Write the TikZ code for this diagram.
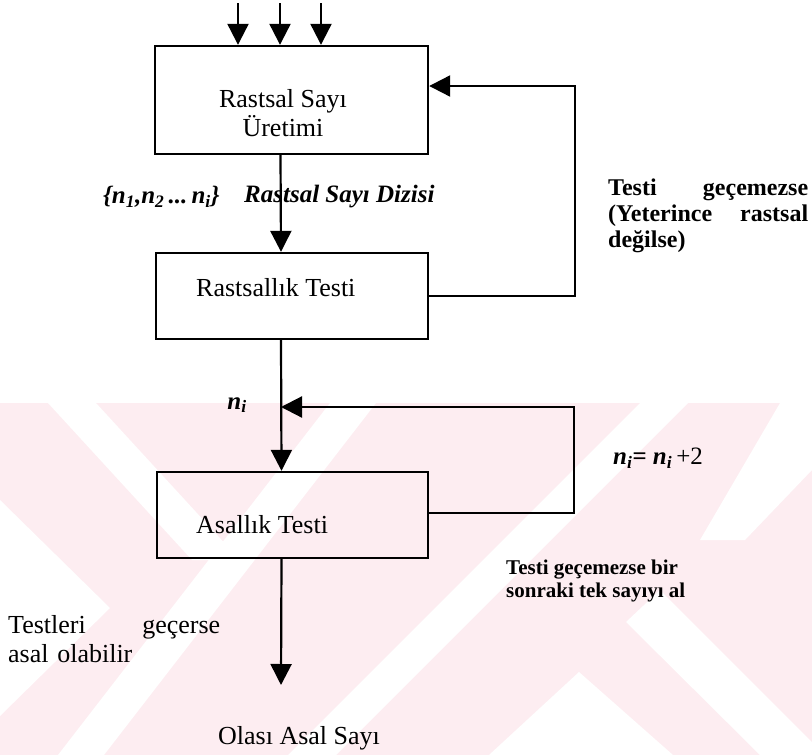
\documentclass[tikz,border=0pt]{standalone}
\usepackage{fontspec}
\setmainfont{Liberation Serif}
\usetikzlibrary{arrows.meta}
\definecolor{wmpink}{RGB}{253,237,241}
\tikzset{
  flowbox/.style={draw, line width=2.4pt, inner sep=0pt},
  arr/.style={line width=2.2pt, -{Triangle[length=21pt,width=21pt]}},
  txt/.style={inner sep=0pt, font=\fontsize{26}{29}\selectfont},
  bftxt/.style={inner sep=0pt, font=\fontsize{24}{26}\selectfont\bfseries},
  smalltxt/.style={inner sep=0pt, font=\fontsize{21}{23}\selectfont\bfseries},
  mathtxt/.style={inner sep=0pt, font=\fontsize{25}{29}\selectfont\bfseries\itshape}
}
\begin{document}
\begin{tikzpicture}[x=1pt,y=-1pt]
\useasboundingbox (0,0) rectangle (812,755);

% pale watermark ribbons in the lower half
\fill[wmpink] (0,403) rectangle (812,755);
\fill[white] (48,403) -- (96,403) -- (240,560) -- (192,560) -- cycle;
\fill[white] (0,500) -- (110,608) -- (0,716) -- cycle;
\fill[white] (330,403) -- (376,403) -- (104,755) -- (58,755) -- cycle;
\fill[white] (640,403) -- (688,403) -- (336,755) -- (288,755) -- cycle;
\fill[white] (579,672) -- (673,755) -- (489,755) -- cycle;
\fill[white] (626,622) -- (660,590) -- (812,742) -- (812,755) -- (760,755) -- cycle;
\fill[white] (780,403) -- (812,403) -- (812,470) -- (745,540) -- (700,540) -- cycle;

% boxes
\node[flowbox, minimum width=273pt, minimum height=108pt] (gen) at (291.5,100) {};
\node[flowbox, minimum width=272pt, minimum height=86pt] (rtest) at (292,296) {};
\node[flowbox, minimum width=271pt, minimum height=86pt] (ptest) at (292.5,515) {};

\node[txt, align=center] (gentxt) at (283,113) {Rastsal Sayı\\Üretimi};
\node[txt, anchor=west] (rtesttxt) at (196,288) {Rastsallık Testi};
\node[txt, anchor=west] (ptesttxt) at (196,525) {Asallık Testi};

% three inputs on top
\coordinate (in1) at (238,3);
\coordinate (in2) at (280,3);
\coordinate (in3) at (321,3);
\foreach \i in {1,2,3}
  \draw[arr] (in\i) -- (in\i |- gen.north);

% main flow
\draw[arr] ([xshift=-11pt]gen.south) -- ([xshift=-11pt]rtest.north);
\draw[arr] ([xshift=-11pt]rtest.south) -- ([xshift=-11pt]ptest.north);
\coordinate (out) at (281,685);
\draw[arr] ([xshift=-11pt]ptest.south) -- (out);

% feedback of the randomness test
\coordinate (fb1) at (575,296);
\draw[arr] (rtest.east) -- (rtest.east -| fb1) |- ([yshift=14pt]gen.east);

% feedback of the primality test
\coordinate (fb2) at (574,513);
\coordinate (join) at (281,407);
\draw[arr] (ptest.east |- fb2) -- (fb2) |- (join);

% labels
\node[mathtxt, anchor=west] (seq) at (103,197) {\{n\textsubscript{1},n\textsubscript{2}\,...\,n\textsubscript{i}\}};
\node[mathtxt, anchor=west] (seqname) at (244,197) {Rastsal Sayı Dizisi};
\node[mathtxt] (ni) at (237,405) {n\textsubscript{i}};
\node[mathtxt, anchor=west] (inc) at (613,458) {n\textsubscript{i}= n\textsubscript{i}\,\normalfont{+2}};
\node[bftxt, anchor=west, text width=200pt, align=left] (fail1) at (608,216)
  {Testi\hfill geçemezse\\(Yeterince\hfill rastsal\\değilse)};
\node[smalltxt, anchor=west, align=left] (fail2) at (506,581)
  {Testi geçemezse bir\\sonraki tek sayıyı al};
\node[txt, anchor=west, text width=212pt, align=left] (pass) at (8,639)
  {Testleri\hfill geçerse\\asal olabilir};
\node[txt] (result) at (299,738) {Olası Asal Sayı};
\end{tikzpicture}
\end{document}
